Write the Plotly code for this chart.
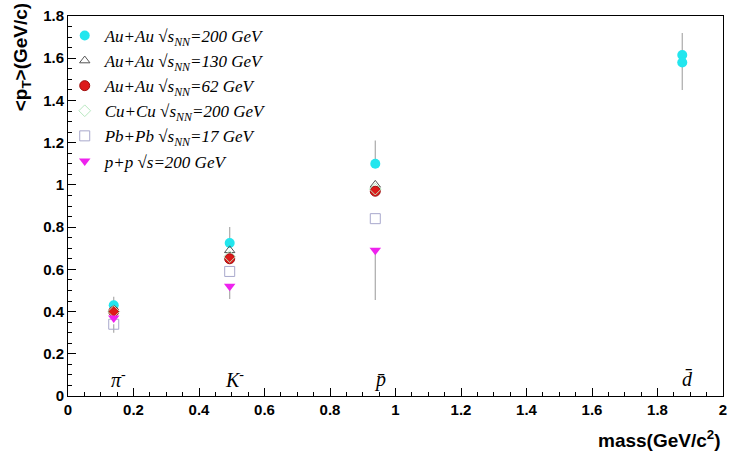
import plotly.graph_objects as go

# particle masses (GeV/c^2)
m_pi, m_K, m_p, m_d = 0.1396, 0.4937, 0.9383, 1.8756
particle_labels = ["π<sup>-</sup>", "K<sup>-</sup>", "p̄", "d̄"]
particle_x = [m_pi, m_K, m_p, m_d]

auau200_x = [m_pi, m_K, m_p, m_d, m_d]
auau200_y = [0.43, 0.725, 1.10, 1.615, 1.58]
auau200_eplus = [0.04, 0.075, 0.11, 0.105, 0.0]
auau200_eminus = [0.0, 0.0, 0.0, 0.0, 0.13]

auau130_x = [m_pi, m_K, m_p]
auau130_y = [0.41, 0.69, 1.00]

auau62_x = [m_pi, m_K, m_p]
auau62_y = [0.40, 0.65, 0.97]

cucu_x = [m_pi, m_K, m_p]
cucu_y = [0.40, 0.66, 0.98]

pbpb_x = [m_pi, m_K, m_p]
pbpb_y = [0.34, 0.59, 0.84]
pbpb_eminus = [0.04, 0.0, 0.0]

pp_x = [m_pi, m_K, m_p]
pp_y = [0.37, 0.52, 0.69]
pp_eminus = [0.0, 0.06, 0.235]

names = [
    "<i>Au+Au √s<sub>NN</sub>=200 GeV</i>",
    "<i>Au+Au √s<sub>NN</sub>=130 GeV</i>",
    "<i>Au+Au √s<sub>NN</sub>=62 GeV</i>",
    "<i>Cu+Cu √s<sub>NN</sub>=200 GeV</i>",
    "<i>Pb+Pb √s<sub>NN</sub>=17 GeV</i>",
    "<i>p+p √s=200 GeV</i>",
]

fig = go.Figure()
ecol = "#aaaaaa"
fig.add_trace(go.Scatter(x=auau200_x, y=auau200_y, mode="markers", name=names[0],
    marker=dict(symbol="circle", size=10, color="#22e6ee"),
    error_y=dict(type="data", symmetric=False, array=auau200_eplus, arrayminus=auau200_eminus,
                 color=ecol, thickness=1.2, width=0)))
fig.add_trace(go.Scatter(x=auau130_x, y=auau130_y, mode="markers", name=names[1],
    marker=dict(symbol="triangle-up-open", size=9, color="#555555", line=dict(width=1))))
fig.add_trace(go.Scatter(x=auau62_x, y=auau62_y, mode="markers", name=names[2],
    marker=dict(symbol="circle", size=10, color="#dd1a1a", line=dict(color="#a01010", width=1))))
fig.add_trace(go.Scatter(x=cucu_x, y=cucu_y, mode="markers", name=names[3],
    marker=dict(symbol="diamond-open", size=9, color="#b8e8c0", line=dict(width=1))))
fig.add_trace(go.Scatter(x=pbpb_x, y=pbpb_y, mode="markers", name=names[4],
    marker=dict(symbol="square-open", size=10, color="#a8a8cc", line=dict(width=1)),
    error_y=dict(type="data", symmetric=False, array=[0, 0, 0], arrayminus=pbpb_eminus,
                 color=ecol, thickness=1.2, width=0)))
fig.add_trace(go.Scatter(x=pp_x, y=pp_y, mode="markers", name=names[5],
    marker=dict(symbol="triangle-down", size=10, color="#ee22ee"),
    error_y=dict(type="data", symmetric=False, array=[0, 0, 0], arrayminus=pp_eminus,
                 color=ecol, thickness=1.2, width=0)))

for lbl, px in zip(particle_labels, particle_x):
    fig.add_annotation(x=px + 0.015, y=0.08, text="<i>" + lbl + "</i>", showarrow=False,
                       font=dict(family="Liberation Serif", size=20, color="black"))

fig.add_annotation(xref="paper", yref="paper", x=-0.071, y=1.04, xanchor="center", yanchor="top",
                   text="&lt;p<sub>T</sub>&gt;(GeV/c)", textangle=-90, showarrow=False,
                   font=dict(family="Liberation Sans", size=19, color="black", weight="bold"))
fig.add_annotation(xref="paper", yref="paper", x=1.0, y=-0.075, xanchor="right", yanchor="top",
                   text="mass(GeV/c<sup>2</sup>)", showarrow=False,
                   font=dict(family="Liberation Sans", size=19, color="black", weight="bold"))

axis_common = dict(showgrid=False, zeroline=False, showline=True, linecolor="black", linewidth=1,
                   mirror=True, ticks="inside", tickcolor="black", ticklen=8,
                   ticklabeloverflow="allow",
                   tickfont=dict(family="Liberation Sans", size=15, color="black", weight="bold"))
fig.update_xaxes(range=[0, 2], dtick=0.2, tick0=0,
                 minor=dict(ticks="inside", ticklen=4, dtick=0.05, tickcolor="black"), **axis_common)
fig.update_yaxes(range=[0, 1.8], dtick=0.2, tick0=0,
                 minor=dict(ticks="inside", ticklen=4, dtick=0.05, tickcolor="black"), **axis_common)

fig.update_layout(
    width=730, height=457,
    margin=dict(l=68, r=3, t=16, b=61),
    plot_bgcolor="white", paper_bgcolor="white",
    showlegend=True,
    legend=dict(x=-0.005, y=0.995, xanchor="left", yanchor="top", bgcolor="rgba(0,0,0,0)",
                font=dict(family="Liberation Serif", size=17, color="black"),
                tracegroupgap=0, itemwidth=30),
)

fig.write_html("out.html")
